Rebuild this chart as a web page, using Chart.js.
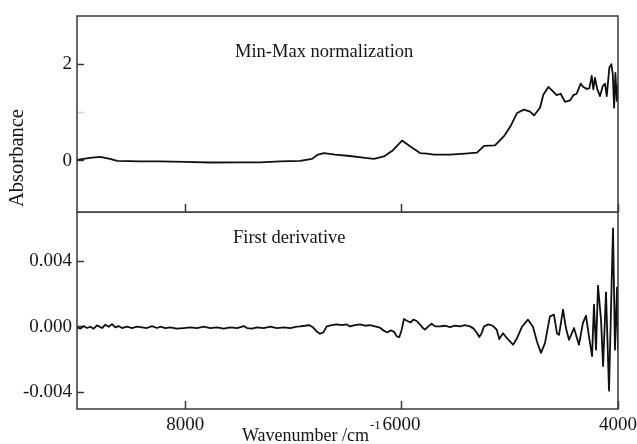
<!DOCTYPE html>
<html><head><meta charset="utf-8">
<script src="https://cdn.jsdelivr.net/npm/chart.js@4/dist/chart.umd.min.js"></script>
<style>
html,body{margin:0;padding:0;background:#fff;}
#wrap{position:relative;width:637px;height:444px;overflow:hidden;background:#fff;}
.box{position:absolute;left:0;width:637px;}
</style></head><body>
<div id="wrap">
  <div class="box" style="top:0;height:213px"><canvas id="cTop"></canvas></div>
  <div class="box" style="top:212px;height:232px"><canvas id="cBot"></canvas></div>
</div>
<script>
// ---- data ----
const xTickValues = [8000, 6000, 4000];
const absTickValues = [0, 1, 2];
const derTickValues = [-0.004, 0, 0.004];

const absWn = [9000,8880,8787,8695,8630,8418,8233,8002,7771,7494,7309,7124,6939,6828,6773,6717,6616,6477,6338,6255,6163,6080,5996,5922,5830,5765,5701,5553,5414,5303,5238,5137,5054,4998,4933,4869,4813,4776,4721,4690,4644,4601,4567,4530,4490,4444,4413,4382,4345,4320,4289,4265,4243,4228,4213,4191,4166,4141,4120,4104,4080,4061,4048,4036,4024,4011,4000];
const absVal = [0.02,0.06,0.08,0.04,0.0,-0.01,-0.01,-0.02,-0.035,-0.03,-0.03,-0.01,0.0,0.04,0.13,0.16,0.13,0.10,0.06,0.04,0.09,0.22,0.42,0.30,0.16,0.15,0.13,0.13,0.15,0.17,0.31,0.32,0.51,0.70,0.99,1.06,1.02,0.94,1.10,1.37,1.53,1.44,1.36,1.39,1.22,1.25,1.36,1.39,1.60,1.53,1.49,1.50,1.76,1.48,1.72,1.48,1.34,1.55,1.60,1.34,1.93,2.00,1.79,1.10,1.82,1.24,1.58];

const derWn = [9000,8970,8938,8908,8877,8846,8815,8769,8738,8707,8677,8646,8615,8584,8538,8492,8445,8399,8353,8307,8261,8230,8184,8138,8076,8014,7953,7891,7829,7768,7706,7644,7583,7521,7459,7429,7383,7336,7275,7214,7152,7090,7029,6967,6939,6893,6856,6822,6785,6754,6724,6692,6646,6600,6554,6507,6477,6431,6385,6338,6292,6246,6200,6169,6132,6101,6070,6045,6021,5999,5978,5947,5916,5892,5860,5836,5805,5784,5753,5722,5691,5645,5599,5553,5506,5460,5414,5368,5337,5306,5282,5260,5238,5199,5158,5121,5097,5063,5026,4970,4933,4887,4832,4786,4749,4712,4675,4629,4592,4564,4545,4508,4481,4453,4407,4361,4324,4296,4268,4240,4222,4203,4185,4157,4138,4111,4083,4065,4046,4028,4009,4000];
const derVal = [-0.00004,-0.00012,0.00004,-0.00008,0,-0.00012,0.00008,-0.00008,0.00012,0,0.00016,-0.00004,0.00004,-0.00008,0,-0.00008,0,-0.00004,-0.00008,0.00004,-0.00008,0,-0.00008,-0.00004,-0.00012,-0.00008,-0.00004,-0.00008,0,-0.00008,-0.00004,-0.00012,-0.00004,-0.00008,0.00004,-0.00008,-0.00012,-0.00004,-0.00008,0,-0.00008,-0.00004,-0.00008,0,0.00002,0.00006,0.0001,-0.00002,-0.00029,-0.00043,-0.00035,0.00002,0.0001,0.00014,0.0001,0.00014,0.00002,0.0001,0.00014,0.00006,0.0001,0.00002,-0.00006,-0.00022,-0.00035,-0.00022,-0.00031,-0.00059,-0.00063,-0.00018,0.00047,0.00035,0.00027,0.00043,0.00035,0.00018,-0.00006,-0.00018,0.00002,0.00018,0.00002,0.00002,0.00006,-0.00002,0.00006,0.00002,0.0001,0.00002,-0.0001,-0.00035,-0.00063,-0.00039,0.00002,0.00014,0.00006,-0.00018,-0.00075,-0.0004,-0.0007,-0.0011,-0.0007,0,0.00043,0,-0.0009,-0.0016,-0.001,0.00063,0.00074,-0.0004,-0.0005,0.00104,-0.00008,-0.0008,-0.00008,-0.0011,0.00023,0.00067,-0.0006,-0.0018,0.00135,-0.0014,0.0025,0.00043,-0.0024,0.0021,-0.0039,0.001,0.006,-0.0014,0.0024,-0.0014];

// ---- styling ----
const FONT = "'Liberation Serif','Times New Roman',serif";
const INK = '#151515';
const FRAME = '#383838';
Chart.defaults.font.family = FONT;
Chart.defaults.color = INK;

function pts(xs, ys){ return xs.map((x,i)=>({x:x, y:ys[i]})); }
function setTicks(values){ return function(scale){ scale.ticks = values.map(v=>({value:v})); }; }
function zeroPad(scale){ scale.paddingTop=0; scale.paddingBottom=0; scale.paddingLeft=0; scale.paddingRight=0; }

function framePlugin(drawTexts){
  return {
    id:'frame',
    afterDraw(chart){
      const ctx = chart.ctx, a = chart.chartArea;
      ctx.save();
      ctx.strokeStyle = FRAME; ctx.lineWidth = 1.5;
      ctx.strokeRect(a.left, a.top, a.right-a.left, a.bottom-a.top);
      ctx.fillStyle = INK;
      drawTexts(ctx, a);
      ctx.restore();
    }
  };
}

function xScale(showLabels, height){
  return {
    type:'linear', min:4000, max:9000, reverse:true,
    afterBuildTicks: setTicks(xTickValues),
    ticks:{display:showLabels, autoSkip:false, maxRotation:0, padding:13, font:{size:19, family:FONT}, color:INK,
           callback:v=>String(v)},
    grid:{display:true, drawOnChartArea:false, drawTicks:true, tickLength:-8, tickColor:FRAME, tickWidth:1.5},
    border:{display:false},
    afterFit(s){ s.height = height; zeroPad(s); }
  };
}

const lineDs = (data)=>({data:data, borderColor:'#101010', borderWidth:1.8, pointRadius:0, tension:0,
  borderJoinStyle:'round', fill:false});

const baseOptions = {
  responsive:true, maintainAspectRatio:false, animation:false, events:[],
  plugins:{legend:{display:false}, tooltip:{enabled:false}}
};

// ---- upper panel ----
new Chart(document.getElementById('cTop'), {
  type:'line',
  data:{datasets:[lineDs(pts(absWn, absVal))]},
  options:{
    ...baseOptions,
    layout:{padding:{top:16, left:0, right:19, bottom:0}},
    scales:{
      x: xScale(false, 1),
      y:{
        min:-1.06, max:3,
        afterBuildTicks: setTicks(absTickValues),
        ticks:{padding:12, font:{size:19, family:FONT}, color:INK, callback:v=>(v===1?'':String(v))},
        grid:{display:true, drawOnChartArea:false, drawTicks:true, tickLength:-7, tickWidth:1.5,
              tickColor:c=>(c.tick && c.tick.value===1 ? '#d0d0d0' : FRAME)},
        border:{display:false},
        afterFit(s){ s.width = 77; zeroPad(s); }
      }
    }
  },
  plugins:[framePlugin((ctx,a)=>{
    ctx.font = '18.5px ' + FONT; ctx.textAlign='left'; ctx.textBaseline='alphabetic';
    ctx.fillText('Min-Max normalization', a.left+158, a.top+41);
    ctx.save();
    ctx.translate(18, 158); ctx.rotate(-Math.PI/2);
    ctx.font = '20.5px ' + FONT; ctx.textAlign='center'; ctx.textBaseline='middle';
    ctx.fillText('Absorbance', 0, 0);
    ctx.restore();
  })]
});

// ---- lower panel ----
new Chart(document.getElementById('cBot'), {
  type:'line',
  data:{datasets:[lineDs(pts(derWn, derVal))]},
  options:{
    ...baseOptions,
    layout:{padding:{top:0, left:0, right:19, bottom:0}},
    scales:{
      x: xScale(true, 35),
      y:{
        min:-0.00502, max:0.0070,
        afterBuildTicks: setTicks(derTickValues),
        ticks:{padding:12, font:{size:19, family:FONT}, color:INK, callback:v=>v.toFixed(3)},
        grid:{display:true, drawOnChartArea:false, drawTicks:true, tickLength:-7, tickWidth:1.5, tickColor:FRAME},
        border:{display:false},
        afterFit(s){ s.width = 77; zeroPad(s); }
      }
    }
  },
  plugins:[framePlugin((ctx,a)=>{
    ctx.font = '18.5px ' + FONT; ctx.textAlign='left'; ctx.textBaseline='alphabetic';
    ctx.fillText('First derivative', a.left+156, a.top+31);
    const t = 'Wavenumber /cm';
    const x0 = 242, y0 = a.bottom + 32;
    ctx.font = '18px ' + FONT;
    ctx.fillText(t, x0, y0);
    const w = ctx.measureText(t).width;
    ctx.font = '13px ' + FONT;
    ctx.fillText('-1', x0 + w + 1, a.bottom + 20);
  })]
});
</script>
</body></html>
